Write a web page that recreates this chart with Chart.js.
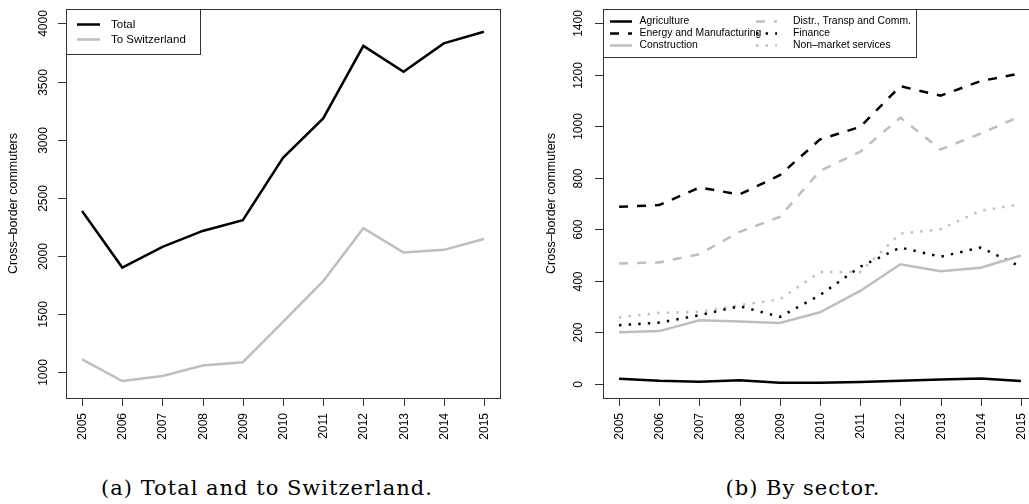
<!DOCTYPE html>
<html>
<head>
<meta charset="utf-8">
<script src="https://cdn.jsdelivr.net/npm/chart.js@4.4.1/dist/chart.umd.min.js"></script>
<style>
  html, body { margin: 0; padding: 0; background: #fff; }
  body { width: 1029px; height: 504px; overflow: hidden; position: relative; }
  canvas { position: absolute; top: 0; }
  #chartA { left: 0; }
  #chartB { left: 515px; }
  .cap {
    position: absolute; top: 478px; width: 500px; text-align: center;
    font: 21px 'DejaVu Serif', serif; letter-spacing: 1px; line-height: 21px;
    white-space: nowrap; color: #000;
  }
</style>
</head>
<body>
<canvas id="chartA" width="514" height="460"></canvas>
<canvas id="chartB" width="540" height="460"></canvas>
<div class="cap" style="left:17px">(a) Total and to Switzerland.</div>
<div class="cap" style="left:553px">(b) By sector.</div>

<script>
// data
const years = [2005, 2006, 2007, 2008, 2009, 2010, 2011, 2012, 2013, 2014, 2015];

const total = [2386, 1899, 2076, 2214, 2306, 2843, 3182, 3807, 3583, 3828, 3928];
const toSwitzerland = [1109, 922, 966, 1055, 1084, 1431, 1781, 2237, 2028, 2051, 2145];

const agriculture = [19, 11, 7, 13, 3, 3, 6, 11, 16, 20, 10];
const energyManufacturing = [687, 694, 762, 735, 810, 949, 998, 1156, 1119, 1176, 1206];
const construction = [200, 204, 246, 241, 236, 277, 360, 464, 437, 450, 498];
const distrTranspComm = [467, 471, 503, 590, 648, 827, 901, 1034, 910, 972, 1040];
const finance = [227, 237, 266, 301, 259, 344, 454, 529, 493, 529, 454];
const nonMarket = [257, 275, 279, 305, 327, 434, 434, 583, 600, 672, 697];

const yTicksA = [1000, 1500, 2000, 2500, 3000, 3500, 4000];
const yTicksB = [0, 200, 400, 600, 800, 1000, 1200, 1400];

const BLACK = '#000';
const GREY = '#bebebe';
const DASH = [9, 9];
const DOT = [2.4, 7.2];
const SANS = '"Liberation Sans", Arial, sans-serif';

function series(label, values, color, dash) {
  return {
    label: label,
    data: years.map((y, i) => ({ x: y, y: values[i] })),
    borderColor: color,
    borderWidth: 2.5,
    borderDash: dash || [],
    pointRadius: 0,
    fill: false,
    tension: 0
  };
}

// draws the R style box, axes, labels and legend
const rPlot = {
  id: 'rPlot',
  afterDatasetsDraw(chart, args, o) {
    const ctx = chart.ctx;
    const a = chart.chartArea;
    const xs = chart.scales.x;
    const ys = chart.scales.y;
    ctx.save();
    ctx.strokeStyle = '#333';
    ctx.lineWidth = 1;
    ctx.strokeRect(Math.round(a.left) + 0.5, Math.round(a.top) + 0.5,
      Math.round(a.right - a.left), Math.round(a.bottom - a.top));

    ctx.fillStyle = '#000';
    ctx.font = '12px ' + SANS;
    years.forEach(yr => {
      const px = Math.round(xs.getPixelForValue(yr)) + 0.5;
      ctx.beginPath();
      ctx.moveTo(px, a.bottom);
      ctx.lineTo(px, a.bottom + 8);
      ctx.stroke();
      ctx.save();
      ctx.translate(px, a.bottom + 15);
      ctx.rotate(-Math.PI / 2);
      ctx.textAlign = 'right';
      ctx.textBaseline = 'middle';
      ctx.fillText(String(yr), 0, 0);
      ctx.restore();
    });
    o.yTicks.forEach(v => {
      const py = Math.round(ys.getPixelForValue(v)) + 0.5;
      ctx.beginPath();
      ctx.moveTo(a.left, py);
      ctx.lineTo(a.left - 8, py);
      ctx.stroke();
      ctx.save();
      ctx.translate(o.tickX, py);
      ctx.rotate(-Math.PI / 2);
      ctx.textAlign = 'center';
      ctx.textBaseline = 'middle';
      ctx.fillText(String(v), 0, 0);
      ctx.restore();
    });

    // axis title
    ctx.save();
    ctx.font = '12.5px ' + SANS;
    ctx.translate(o.titleX, (a.top + a.bottom) / 2);
    ctx.rotate(-Math.PI / 2);
    ctx.textAlign = 'center';
    ctx.textBaseline = 'middle';
    ctx.fillText('Cross\u2013border commuters', 0, 0);
    ctx.restore();

    // legend
    const lg = o.legend;
    ctx.fillStyle = '#fff';
    ctx.fillRect(lg.box[0], lg.box[1], lg.box[2] - lg.box[0], lg.box[3] - lg.box[1]);
    ctx.strokeStyle = '#333';
    ctx.strokeRect(lg.box[0] + 0.5, lg.box[1] + 0.5, lg.box[2] - lg.box[0], lg.box[3] - lg.box[1]);
    ctx.font = lg.font + 'px ' + SANS;
    ctx.textAlign = 'left';
    ctx.textBaseline = 'middle';
    lg.items.forEach((it, i) => {
      const ds = chart.data.datasets[i];
      ctx.strokeStyle = ds.borderColor;
      ctx.lineWidth = ds.borderWidth;
      ctx.setLineDash(ds.borderDash);
      ctx.beginPath();
      ctx.moveTo(it[0], it[3]);
      ctx.lineTo(it[1], it[3]);
      ctx.stroke();
      ctx.setLineDash([]);
      ctx.fillStyle = '#000';
      ctx.fillText(ds.label, it[2], it[3]);
    });
    ctx.restore();
  }
};

function makeChart(id, datasets, yMin, yMax, cfg) {
  const canvas = document.getElementById(id);
  return new Chart(canvas, {
    type: 'line',
    data: { datasets: datasets },
    plugins: [rPlot],
    options: {
      responsive: false,
      animation: false,
      devicePixelRatio: 1,
      layout: { padding: { left: 0, top: 9, right: canvas.width - cfg.right, bottom: 0 } },
      plugins: {
        legend: { display: false },
        tooltip: { enabled: false },
        rPlot: cfg
      },
      scales: {
        x: {
          type: 'linear', min: 2004.6, max: 2015.4,
          grid: { display: false }, border: { display: false },
          ticks: { display: false },
          afterFit: s => { s.height = canvas.height - 398; }
        },
        y: {
          type: 'linear', min: yMin, max: yMax,
          grid: { display: false }, border: { display: false },
          ticks: { display: false },
          afterFit: s => { s.width = cfg.left; }
        }
      }
    }
  });
}

makeChart('chartA', [
  series('Total', total, BLACK),
  series('To Switzerland', toSwitzerland, GREY)
], 776, 4124, {
  left: 66, right: 500, tickX: 43.5, titleX: 14, yTicks: yTicksA,
  legend: {
    font: 11.5, box: [66, 9, 200, 54],
    items: [[77, 100, 111, 24.5], [77, 100, 111, 39.5]]
  }
});

makeChart('chartB', [
  series('Agriculture', agriculture, BLACK),
  series('Energy and Manufacturing', energyManufacturing, BLACK, DASH),
  series('Construction', construction, GREY),
  series('Distr., Transp and Comm.', distrTranspComm, GREY, DASH),
  series('Finance', finance, BLACK, DOT),
  series('Non\u2013market services', nonMarket, GREY, DOT)
], -56, 1456, {
  left: 88, right: 522, tickX: 63.5, titleX: 36.5, yTicks: yTicksB,
  legend: {
    font: 10.4, box: [88, 9, 401, 57],
    items: [
      [95, 117, 124.5, 21.5], [95, 117, 124.5, 33.5], [95, 117, 124.5, 45.5],
      [241, 262, 278, 21.5], [241, 262, 278, 33.5], [241, 262, 278, 45.5]
    ]
  }
});
</script>
</body>
</html>
